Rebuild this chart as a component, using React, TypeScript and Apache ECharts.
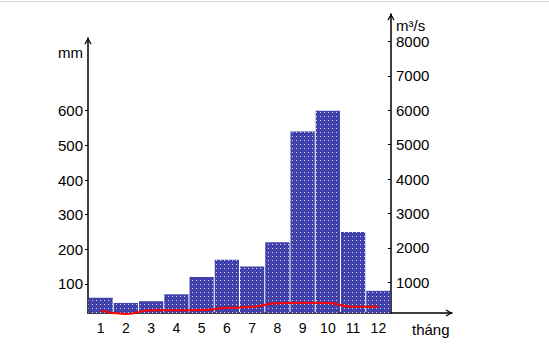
import React, { useEffect, useRef } from "react";
import * as echarts from "echarts";

const months = ["1", "2", "3", "4", "5", "6", "7", "8", "9", "10", "11", "12"];
const rainfall = [60, 45, 50, 70, 120, 170, 150, 220, 540, 600, 250, 80];
const discharge = [180, 80, 190, 190, 200, 260, 290, 390, 410, 400, 290, 290];
const leftTicks = [100, 200, 300, 400, 500, 600];
const rightTicks = [1000, 2000, 3000, 4000, 5000, 6000, 7000, 8000];

const ARROW = "path://M5,0 L10,9 L8.6,9.9 L5,3.4 L1.4,9.9 L0,9 Z";
const FONT = "'Liberation Sans', Arial, sans-serif";

export default function App() {
  const ref = useRef<HTMLDivElement>(null);
  useEffect(() => {
    if (!ref.current) return;
    const chart = echarts.init(ref.current, null, { renderer: "svg" });
    const axisLine = {
      show: true,
      onZero: false,
      symbol: ["none", ARROW],
      symbolSize: [7, 8],
      symbolOffset: [0, -3],
      lineStyle: { color: "#000", width: 1.5 },
    };
    chart.setOption({
      animation: false,
      backgroundColor: "#fff",
      textStyle: { fontFamily: FONT },
      grid: [
        { left: 88, right: 158, top: 38, bottom: 38 },
        { left: 88, right: 158, top: 14, bottom: 38 },
        { left: 88, right: 97, top: 300, bottom: 38 },
      ],
      xAxis: [
        {
          gridIndex: 0,
          type: "category",
          data: months,
          boundaryGap: true,
          axisLine: { show: false },
          axisTick: { show: false },
          axisLabel: { color: "#000", fontSize: 14, fontFamily: FONT, margin: 8 },
        },
        {
          gridIndex: 1,
          type: "category",
          data: months,
          boundaryGap: true,
          show: false,
        },
        {
          gridIndex: 2,
          type: "value",
          min: 0,
          max: 1,
          axisLine: axisLine,
          axisTick: { show: false },
          axisLabel: { show: false },
          splitLine: { show: false },
        },
      ],
      yAxis: [
        {
          gridIndex: 0,
          type: "value",
          position: "left",
          min: 16,
          max: 810,
          axisLine: axisLine,
          axisTick: { show: true, length: 3, customValues: leftTicks, lineStyle: { color: "#000" } },
          axisLabel: {
            customValues: leftTicks,
            formatter: (v: number) => String(v),
            color: "#000",
            fontSize: 15,
            fontFamily: FONT,
            margin: 5,
          },
          splitLine: { show: false },
        },
        {
          gridIndex: 1,
          type: "value",
          position: "right",
          min: 110,
          max: 8800,
          axisLine: axisLine,
          axisTick: { show: true, length: 3, inside: true, customValues: rightTicks, lineStyle: { color: "#000" } },
          axisLabel: {
            customValues: rightTicks,
            formatter: (v: number) => String(v),
            color: "#000",
            fontSize: 15,
            fontFamily: FONT,
            margin: 5,
          },
          splitLine: { show: false },
        },
        { gridIndex: 2, type: "value", show: false },
      ],
      series: [
        {
          type: "bar",
          xAxisIndex: 0,
          yAxisIndex: 0,
          data: rainfall,
          barCategoryGap: "4%",
          itemStyle: {
            color: "#4141ab",
            decal: {
              symbol: "rect",
              symbolSize: 1,
              color: "rgba(255,255,255,0.8)",
              dashArrayX: [1, 3],
              dashArrayY: [1, 3],
              rotation: 0,
            },
          },
        },
        {
          type: "line",
          xAxisIndex: 1,
          yAxisIndex: 1,
          data: discharge,
          smooth: true,
          clip: false,
          showSymbol: false,
          symbol: "none",
          lineStyle: { color: "#ff0000", width: 2 },
          z: 5,
        },
      ],
      graphic: [
        {
          type: "line",
          shape: { x1: 0, y1: 1.5, x2: 549, y2: 1.5 },
          style: { stroke: "#dcdcdc", lineWidth: 1 },
        },
        {
          type: "text",
          x: 83,
          y: 52,
          style: { text: "mm", fill: "#000", font: `15px ${FONT}`, align: "right", verticalAlign: "middle" },
        },
        {
          type: "text",
          x: 396,
          y: 25,
          style: { text: "m³/s", fill: "#000", font: `15px ${FONT}`, align: "left", verticalAlign: "middle" },
        },
        {
          type: "text",
          x: 412,
          y: 329,
          style: { text: "tháng", fill: "#000", font: `15px ${FONT}`, align: "left", verticalAlign: "middle" },
        },
      ],
    });
    return () => chart.dispose();
  }, []);
  return (
    <div
      ref={ref}
      style={{ position: "fixed", left: 0, top: 0, width: 549, height: 351 }}
    />
  );
}
